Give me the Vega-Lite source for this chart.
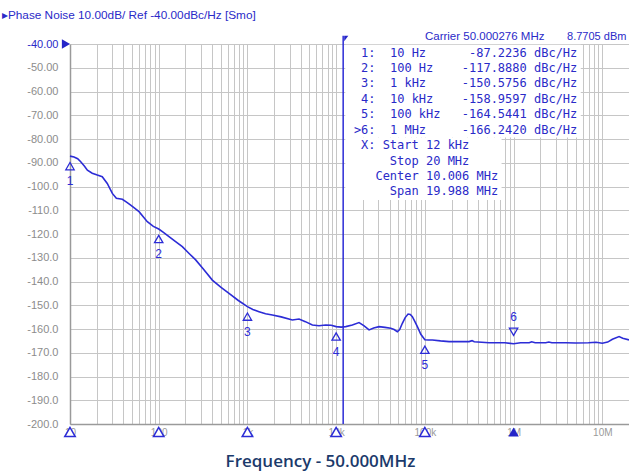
{
  "$schema": "https://vega.github.io/schema/vega-lite/v6.json",
  "width": 559,
  "height": 380,
  "autosize": {"type": "none"},
  "padding": {"left": 70, "top": 44, "right": 0, "bottom": 48},
  "background": "white",
  "config": {
    "view": {"stroke": null},
    "text": {"font": "Liberation Sans"}
  },
  "datasets": {
    "trace": [
      {"freq": 10, "db": -87.2}, {"freq": 11.1, "db": -87.6}, {"freq": 12.2, "db": -88.3}, {"freq": 13.2, "db": -89.6},
      {"freq": 14.5, "db": -91.4}, {"freq": 15.7, "db": -93.1}, {"freq": 17.8, "db": -94.4}, {"freq": 20.3, "db": -95.2},
      {"freq": 23.1, "db": -95.9}, {"freq": 26.3, "db": -98.7}, {"freq": 30, "db": -102.9}, {"freq": 33.3, "db": -105.0},
      {"freq": 38.9, "db": -105.4}, {"freq": 43, "db": -106.5}, {"freq": 48.3, "db": -107.8}, {"freq": 60, "db": -110.6},
      {"freq": 74.4, "db": -114.8}, {"freq": 87, "db": -116.8}, {"freq": 100, "db": -117.9}, {"freq": 113, "db": -119.3},
      {"freq": 130.6, "db": -121.1}, {"freq": 155, "db": -123.2}, {"freq": 184.5, "db": -125.3}, {"freq": 220, "db": -128.2},
      {"freq": 261, "db": -130.9}, {"freq": 320, "db": -134.8}, {"freq": 402, "db": -139.4}, {"freq": 500, "db": -142.4},
      {"freq": 620, "db": -145.0}, {"freq": 790, "db": -148.0}, {"freq": 1000, "db": -150.6}, {"freq": 1150, "db": -151.8},
      {"freq": 1351, "db": -152.7}, {"freq": 1600, "db": -153.6}, {"freq": 1909, "db": -154.1}, {"freq": 2400, "db": -154.9},
      {"freq": 3208, "db": -156.2}, {"freq": 3817, "db": -155.8}, {"freq": 4500, "db": -156.9}, {"freq": 5392, "db": -158.3},
      {"freq": 6400, "db": -158.6}, {"freq": 7634, "db": -158.3}, {"freq": 8800, "db": -158.4}, {"freq": 10000, "db": -159.0},
      {"freq": 11400, "db": -159.2}, {"freq": 12830, "db": -159.0}, {"freq": 15230, "db": -158.3}, {"freq": 18120, "db": -157.3},
      {"freq": 20500, "db": -158.6}, {"freq": 23500, "db": -160.4}, {"freq": 26500, "db": -159.6}, {"freq": 30460, "db": -159.0},
      {"freq": 35500, "db": -159.3}, {"freq": 41270, "db": -159.7}, {"freq": 45000, "db": -160.2}, {"freq": 48980, "db": -161.1},
      {"freq": 52000, "db": -160.2}, {"freq": 55760, "db": -157.6}, {"freq": 60000, "db": -155.2}, {"freq": 64660, "db": -153.7},
      {"freq": 68500, "db": -153.9}, {"freq": 72280, "db": -154.8}, {"freq": 77000, "db": -156.8}, {"freq": 82330, "db": -159.0},
      {"freq": 90000, "db": -162.2}, {"freq": 100000, "db": -164.5}, {"freq": 110000, "db": -164.6}, {"freq": 121500, "db": -164.6},
      {"freq": 150000, "db": -165.0}, {"freq": 187400, "db": -165.3}, {"freq": 250000, "db": -165.3}, {"freq": 315000, "db": -165.3},
      {"freq": 340000, "db": -164.9}, {"freq": 360000, "db": -165.4}, {"freq": 529500, "db": -165.8}, {"freq": 800000, "db": -165.8},
      {"freq": 1000000, "db": -166.2}, {"freq": 1200000, "db": -165.8}, {"freq": 1500000, "db": -165.8}, {"freq": 1600000, "db": -165.4},
      {"freq": 1750000, "db": -165.8}, {"freq": 2300000, "db": -165.8}, {"freq": 2500000, "db": -165.5}, {"freq": 2700000, "db": -165.8},
      {"freq": 3880000, "db": -165.8}, {"freq": 5000000, "db": -165.9}, {"freq": 7000000, "db": -165.8}, {"freq": 8500000, "db": -165.6},
      {"freq": 10000000, "db": -166.0}, {"freq": 11500000, "db": -165.5}, {"freq": 13000000, "db": -164.3}, {"freq": 15460000, "db": -163.2},
      {"freq": 17000000, "db": -163.9}, {"freq": 20000000, "db": -164.6}
    ],
    "markers": [
      {"m": "1", "freq": 10, "db": -87.2236},
      {"m": "2", "freq": 100, "db": -117.888},
      {"m": "3", "freq": 1000, "db": -150.5756},
      {"m": "4", "freq": 10000, "db": -158.9597},
      {"m": "5", "freq": 100000, "db": -164.5441},
      {"m": "6", "freq": 1000000, "db": -166.242}
    ],
    "table": [
      {"row": 1, "label": "1:", "stim": "10 Hz", "value": "-87.2236", "unit": "dBc/Hz"},
      {"row": 2, "label": "2:", "stim": "100 Hz", "value": "-117.8880", "unit": "dBc/Hz"},
      {"row": 3, "label": "3:", "stim": "1 kHz", "value": "-150.5756", "unit": "dBc/Hz"},
      {"row": 4, "label": "4:", "stim": "10 kHz", "value": "-158.9597", "unit": "dBc/Hz"},
      {"row": 5, "label": "5:", "stim": "100 kHz", "value": "-164.5441", "unit": "dBc/Hz"},
      {"row": 6, "label": ">6:", "stim": "1 MHz", "value": "-166.2420", "unit": "dBc/Hz"}
    ],
    "span": [
      {"row": 7, "prefix": "X:", "key": "Start", "val": "12 kHz"},
      {"row": 8, "prefix": "", "key": "Stop", "val": "20 MHz"},
      {"row": 9, "prefix": "", "key": "Center", "val": "10.006 MHz"},
      {"row": 10, "prefix": "", "key": "Span", "val": "19.988 MHz"}
    ],
    "one": [{"k": 1}]
  },
  "layer": [
    {
      "data": {"name": "trace"},
      "mark": {"type": "line", "color": "#2c2cd6", "strokeWidth": 1.6, "clip": false},
      "encoding": {
        "x": {
          "field": "freq", "type": "quantitative",
          "scale": {"type": "log", "domain": [10, 20000000], "nice": false},
          "axis": {
            "values": [10,20,30,40,50,60,70,80,90,100,200,300,400,500,600,700,800,900,1000,2000,3000,4000,5000,6000,7000,8000,9000,10000,20000,30000,40000,50000,60000,70000,80000,90000,100000,200000,300000,400000,500000,600000,700000,800000,900000,1000000,2000000,3000000,4000000,5000000,6000000,7000000,8000000,9000000,10000000],
            "labelExpr": "datum.value == 10 ? '10' : datum.value == 100 ? '100' : datum.value == 1000 ? '1k' : datum.value == 10000 ? '10k' : datum.value == 100000 ? '100k' : datum.value == 1000000 ? '1M' : datum.value == 10000000 ? '10M' : ''",
            "labelOverlap": false, "labelFlush": false, "labelBound": false,
            "labelFont": "Liberation Sans", "labelFontSize": 10, "labelColor": "#9a9a9a",
            "labelPadding": 3, "ticks": false,
            "grid": true, "gridColor": "#c6c6c6", "gridWidth": 1,
            "domainColor": "#9a9a9a", "domainWidth": 1.5,
            "title": "Frequency - 50.000MHz",
            "titleFont": "Open Sans", "titleFontWeight": 600, "titleFontSize": 17,
            "titleColor": "#1b3a6b", "titleX": 250, "titleY": 42,
            "titleBaseline": "alphabetic", "titleAnchor": "middle", "titleAlign": "center"
          }
        },
        "y": {
          "field": "db", "type": "quantitative",
          "scale": {"domain": [-200, -40], "nice": false},
          "axis": {
            "values": [-40,-50,-60,-70,-80,-90,-100,-110,-120,-130,-140,-150,-160,-170,-180,-190,-200],
            "labelExpr": "datum.value > -100 ? '-' + format(abs(datum.value), '.2f') : '-' + format(abs(datum.value), '.1f')",
            "labelFont": "Liberation Sans", "labelFontSize": 11,
            "labelColor": {"condition": {"test": "datum.value == -40", "value": "#2a2ac8"}, "value": "#8c8c8c"},
            "labelPadding": 12, "ticks": false, "labelOverlap": false,
            "grid": true, "gridColor": "#c6c6c6", "gridWidth": 1,
            "domainColor": "#9a9a9a", "domainWidth": 1.5,
            "title": null
          }
        }
      }
    },
    {
      "layer": [
        {
          "data": {"name": "one"},
          "mark": {"type": "rule", "color": "#2c2cd6", "strokeWidth": 1.5, "clip": false},
          "encoding": {
            "x": {"datum": 12000, "type": "quantitative", "scale": {"type": "log", "domain": [10, 20000000], "nice": false}, "axis": null},
            "y": {"datum": -36.5, "type": "quantitative", "scale": {"domain": [-200, -40], "nice": false}, "axis": null},
            "y2": {"datum": -200}
          }
        },
        {
          "data": {"name": "one"},
          "mark": {"type": "point", "shape": "M0,-1L1.3,-1L0,0.7Z", "filled": true, "color": "#2424c8", "size": 40, "opacity": 1, "yOffset": -5, "xOffset": 1, "clip": false},
          "encoding": {
            "x": {"datum": 12000, "type": "quantitative", "scale": {"type": "log", "domain": [10, 20000000], "nice": false}, "axis": null},
            "y": {"datum": -40, "type": "quantitative", "scale": {"domain": [-200, -40], "nice": false}, "axis": null}
          }
        },
        {
          "data": {"name": "one"},
          "mark": {"type": "point", "shape": "triangle-right", "filled": true, "color": "#2424c8", "size": 90, "opacity": 1, "xOffset": -4, "clip": false},
          "encoding": {
            "x": {"datum": 10, "type": "quantitative", "scale": {"type": "log", "domain": [10, 20000000], "nice": false}, "axis": null},
            "y": {"datum": -40, "type": "quantitative", "scale": {"domain": [-200, -40], "nice": false}, "axis": null}
          }
        },
        {
          "data": {"name": "markers"},
          "transform": [{"filter": "datum.m != '6'"}],
          "mark": {"type": "point", "shape": "triangle-up", "filled": false, "color": "#2c2cd6", "strokeWidth": 1.3, "size": 70, "opacity": 1, "yOffset": 10, "clip": false},
          "encoding": {
            "x": {"field": "freq", "type": "quantitative", "scale": {"type": "log", "domain": [10, 20000000], "nice": false}, "axis": null},
            "y": {"field": "db", "type": "quantitative", "scale": {"domain": [-200, -40], "nice": false}, "axis": null}
          }
        },
        {
          "data": {"name": "markers"},
          "transform": [{"filter": "datum.m != '6'"}],
          "mark": {"type": "text", "color": "#2c2cd6", "fontSize": 12, "dy": 25, "baseline": "middle", "clip": false},
          "encoding": {
            "x": {"field": "freq", "type": "quantitative", "scale": {"type": "log", "domain": [10, 20000000], "nice": false}, "axis": null},
            "y": {"field": "db", "type": "quantitative", "scale": {"domain": [-200, -40], "nice": false}, "axis": null},
            "text": {"field": "m"}
          }
        },
        {
          "data": {"name": "markers"},
          "transform": [{"filter": "datum.m == '6'"}],
          "mark": {"type": "point", "shape": "triangle-down", "filled": false, "color": "#2c2cd6", "strokeWidth": 1.3, "size": 70, "opacity": 1, "yOffset": -12, "clip": false},
          "encoding": {
            "x": {"field": "freq", "type": "quantitative", "scale": {"type": "log", "domain": [10, 20000000], "nice": false}, "axis": null},
            "y": {"field": "db", "type": "quantitative", "scale": {"domain": [-200, -40], "nice": false}, "axis": null}
          }
        },
        {
          "data": {"name": "markers"},
          "transform": [{"filter": "datum.m == '6'"}],
          "mark": {"type": "text", "color": "#2c2cd6", "fontSize": 12, "dy": -27, "baseline": "middle", "clip": false},
          "encoding": {
            "x": {"field": "freq", "type": "quantitative", "scale": {"type": "log", "domain": [10, 20000000], "nice": false}, "axis": null},
            "y": {"field": "db", "type": "quantitative", "scale": {"domain": [-200, -40], "nice": false}, "axis": null},
            "text": {"field": "m"}
          }
        },
        {
          "data": {"name": "markers"},
          "transform": [{"filter": "datum.m != '6'"}],
          "mark": {"type": "point", "shape": "triangle-up", "filled": true, "fill": "white", "stroke": "#2c2cd6", "strokeWidth": 1.5, "size": 110, "opacity": 1, "yOffset": 8, "clip": false},
          "encoding": {
            "x": {"field": "freq", "type": "quantitative", "scale": {"type": "log", "domain": [10, 20000000], "nice": false}, "axis": null},
            "y": {"datum": -200, "type": "quantitative", "scale": {"domain": [-200, -40], "nice": false}, "axis": null}
          }
        },
        {
          "data": {"name": "markers"},
          "transform": [{"filter": "datum.m == '6'"}],
          "mark": {"type": "point", "shape": "triangle-up", "filled": true, "color": "#2424c8", "size": 110, "opacity": 1, "yOffset": 8, "clip": false},
          "encoding": {
            "x": {"field": "freq", "type": "quantitative", "scale": {"type": "log", "domain": [10, 20000000], "nice": false}, "axis": null},
            "y": {"datum": -200, "type": "quantitative", "scale": {"domain": [-200, -40], "nice": false}, "axis": null}
          }
        }
      ]
    },
    {
      "layer": [
        {
          "data": {"name": "one"},
          "mark": {"type": "rect", "color": "white", "opacity": 1},
          "encoding": {
            "x": {"datum": -1.2, "type": "quantitative", "scale": {"domain": [-39.44, 38.2], "nice": false}, "axis": null},
            "x2": {"datum": 31.5},
            "y": {"datum": 0.5, "type": "quantitative", "scale": {"domain": [0.4495, 25.06], "reverse": true, "nice": false}, "axis": null},
            "y2": {"datum": 6.5}
          }
        },
        {
          "data": {"name": "one"},
          "mark": {"type": "rect", "color": "white", "opacity": 1},
          "encoding": {
            "x": {"datum": -1.2, "type": "quantitative", "scale": {"domain": [-39.44, 38.2], "nice": false}, "axis": null},
            "x2": {"datum": 20.5},
            "y": {"datum": 6.5, "type": "quantitative", "scale": {"domain": [0.4495, 25.06], "reverse": true, "nice": false}, "axis": null},
            "y2": {"datum": 10.55}
          }
        },
        {
          "data": {"name": "table"},
          "mark": {"type": "text", "font": "DejaVu Sans Mono", "fontSize": 12, "color": "#2a2ac8", "align": "right", "baseline": "middle"},
          "encoding": {
            "x": {"datum": 3, "type": "quantitative", "scale": {"domain": [-39.44, 38.2], "nice": false}, "axis": null},
            "y": {"field": "row", "type": "quantitative", "scale": {"domain": [0.4495, 25.06], "reverse": true, "nice": false}, "axis": null},
            "text": {"field": "label"}
          }
        },
        {
          "data": {"name": "table"},
          "mark": {"type": "text", "font": "DejaVu Sans Mono", "fontSize": 12, "color": "#2a2ac8", "align": "left", "baseline": "middle"},
          "encoding": {
            "x": {"datum": 5, "type": "quantitative", "scale": {"domain": [-39.44, 38.2], "nice": false}, "axis": null},
            "y": {"field": "row", "type": "quantitative", "scale": {"domain": [0.4495, 25.06], "reverse": true, "nice": false}, "axis": null},
            "text": {"field": "stim"}
          }
        },
        {
          "data": {"name": "table"},
          "mark": {"type": "text", "font": "DejaVu Sans Mono", "fontSize": 12, "color": "#2a2ac8", "align": "right", "baseline": "middle"},
          "encoding": {
            "x": {"datum": 24, "type": "quantitative", "scale": {"domain": [-39.44, 38.2], "nice": false}, "axis": null},
            "y": {"field": "row", "type": "quantitative", "scale": {"domain": [0.4495, 25.06], "reverse": true, "nice": false}, "axis": null},
            "text": {"field": "value"}
          }
        },
        {
          "data": {"name": "table"},
          "mark": {"type": "text", "font": "DejaVu Sans Mono", "fontSize": 12, "color": "#2a2ac8", "align": "left", "baseline": "middle"},
          "encoding": {
            "x": {"datum": 25, "type": "quantitative", "scale": {"domain": [-39.44, 38.2], "nice": false}, "axis": null},
            "y": {"field": "row", "type": "quantitative", "scale": {"domain": [0.4495, 25.06], "reverse": true, "nice": false}, "axis": null},
            "text": {"field": "unit"}
          }
        },
        {
          "data": {"name": "span"},
          "mark": {"type": "text", "font": "DejaVu Sans Mono", "fontSize": 12, "color": "#2a2ac8", "align": "right", "baseline": "middle"},
          "encoding": {
            "x": {"datum": 3, "type": "quantitative", "scale": {"domain": [-39.44, 38.2], "nice": false}, "axis": null},
            "y": {"field": "row", "type": "quantitative", "scale": {"domain": [0.4495, 25.06], "reverse": true, "nice": false}, "axis": null},
            "text": {"field": "prefix"}
          }
        },
        {
          "data": {"name": "span"},
          "mark": {"type": "text", "font": "DejaVu Sans Mono", "fontSize": 12, "color": "#2a2ac8", "align": "right", "baseline": "middle"},
          "encoding": {
            "x": {"datum": 9, "type": "quantitative", "scale": {"domain": [-39.44, 38.2], "nice": false}, "axis": null},
            "y": {"field": "row", "type": "quantitative", "scale": {"domain": [0.4495, 25.06], "reverse": true, "nice": false}, "axis": null},
            "text": {"field": "key"}
          }
        },
        {
          "data": {"name": "span"},
          "mark": {"type": "text", "font": "DejaVu Sans Mono", "fontSize": 12, "color": "#2a2ac8", "align": "left", "baseline": "middle"},
          "encoding": {
            "x": {"datum": 10, "type": "quantitative", "scale": {"domain": [-39.44, 38.2], "nice": false}, "axis": null},
            "y": {"field": "row", "type": "quantitative", "scale": {"domain": [0.4495, 25.06], "reverse": true, "nice": false}, "axis": null},
            "text": {"field": "val"}
          }
        },
        {
          "data": {"name": "one"},
          "mark": {"type": "text", "font": "Liberation Sans", "fontSize": 11.8, "color": "#2a2ac8", "align": "left", "baseline": "middle", "text": "▸Phase Noise 10.00dB/ Ref -40.00dBc/Hz [Smo]"},
          "encoding": {
            "x": {"datum": -48.9, "type": "quantitative", "scale": {"domain": [-39.44, 38.2], "nice": false}, "axis": null},
            "y": {"datum": -1.43, "type": "quantitative", "scale": {"domain": [0.4495, 25.06], "reverse": true, "nice": false}, "axis": null}
          }
        },
        {
          "data": {"name": "one"},
          "mark": {"type": "text", "font": "Liberation Sans", "fontSize": 11.5, "color": "#2a2ac8", "align": "left", "baseline": "middle", "text": "Carrier 50.000276 MHz"},
          "encoding": {
            "x": {"datum": 9.86, "type": "quantitative", "scale": {"domain": [-39.44, 38.2], "nice": false}, "axis": null},
            "y": {"datum": 0, "type": "quantitative", "scale": {"domain": [0.4495, 25.06], "reverse": true, "nice": false}, "axis": null}
          }
        },
        {
          "data": {"name": "one"},
          "mark": {"type": "text", "font": "Liberation Sans", "fontSize": 11, "color": "#2a2ac8", "align": "left", "baseline": "middle", "text": "8.7705 dBm"},
          "encoding": {
            "x": {"datum": 29.6, "type": "quantitative", "scale": {"domain": [-39.44, 38.2], "nice": false}, "axis": null},
            "y": {"datum": 0, "type": "quantitative", "scale": {"domain": [0.4495, 25.06], "reverse": true, "nice": false}, "axis": null}
          }
        }
      ]
    }
  ],
  "resolve": {"scale": {"x": "independent", "y": "independent"}}
}
